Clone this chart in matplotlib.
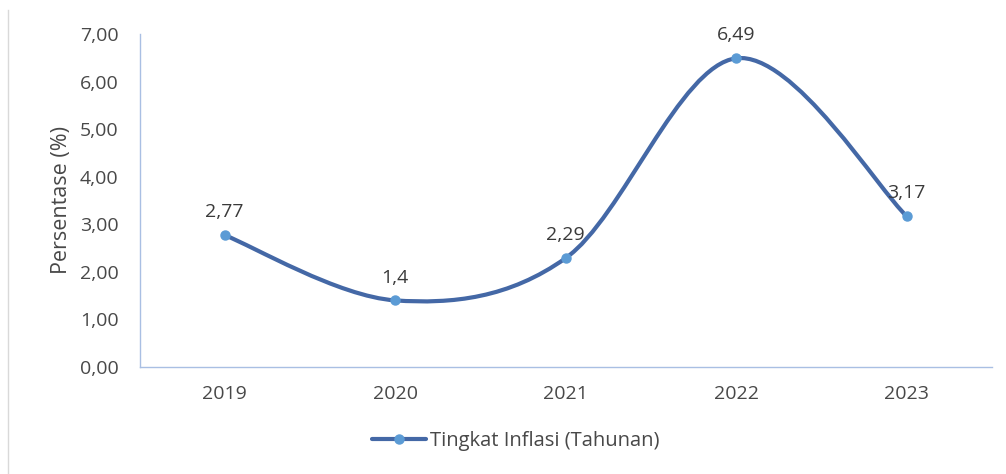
import matplotlib.pyplot as plt
from matplotlib.path import Path
from matplotlib.patches import PathPatch
from matplotlib.lines import Line2D
import matplotlib

matplotlib.rcParams['font.family'] = ['Open Sans', 'DejaVu Sans']

years = ['2019', '2020', '2021', '2022', '2023']
inflasi = [2.77, 1.4, 2.29, 6.49, 3.17]
labels = ['2,77', '1,4', '2,29', '6,49', '3,17']
yticks = [0, 1, 2, 3, 4, 5, 6, 7]

LINE_C = '#4468a6'
MARK_C = '#5b9bd5'
AXIS_C = '#a9bfe3'
TEXT_C = '#484848'
FS = 14

fig = plt.figure(figsize=(10.06, 4.74), dpi=100)
ax = fig.add_axes([139.5 / 1006, 1 - 367 / 474, (992 - 139.5) / 1006, (367 - 34) / 474])

xs = list(range(len(years)))
ax.set_xlim(-0.5, len(years) - 0.5)
ax.set_ylim(0, 7)

# Excel-style smoothed line (cardinal spline as cubic bezier)
pts = list(zip(xs, inflasi))
verts = [pts[0]]
codes = [Path.MOVETO]
for i in range(len(pts) - 1):
    p0 = pts[max(i - 1, 0)]
    p1 = pts[i]
    p2 = pts[i + 1]
    p3 = pts[min(i + 2, len(pts) - 1)]
    c1 = (p1[0] + (p2[0] - p0[0]) / 6, p1[1] + (p2[1] - p0[1]) / 6)
    c2 = (p2[0] - (p3[0] - p1[0]) / 6, p2[1] - (p3[1] - p1[1]) / 6)
    verts += [c1, c2, p2]
    codes += [Path.CURVE4] * 3
ax.add_patch(PathPatch(Path(verts, codes), fc='none', ec=LINE_C, lw=3.0,
                       capstyle='round', joinstyle='round', zorder=2))
ax.plot(xs, inflasi, ls='none', marker='o', ms=6.5, color=MARK_C, zorder=3)

for x, y, t in zip(xs, inflasi, labels):
    ax.annotate(t, (x, y), xytext=(0, 10), textcoords='offset points',
                ha='center', va='bottom', fontsize=FS, color='#3a3a3a')

ax.set_xticks(xs)
ax.set_xticklabels(years)
ax.set_yticks(yticks)
ax.set_yticklabels([f'{v:.2f}'.replace('.', ',') for v in yticks])
ax.tick_params(length=0, labelsize=FS, labelcolor=TEXT_C)
ax.tick_params(axis='x', pad=13)
ax.tick_params(axis='y', pad=15)
ax.set_ylabel('Persentase (%)', fontsize=15.5, color=TEXT_C, labelpad=6)

for s in ['top', 'right']:
    ax.spines[s].set_visible(False)
for s in ['left', 'bottom']:
    ax.spines[s].set_color(AXIS_C)
    ax.spines[s].set_linewidth(1.0)

handle = Line2D([], [], color=LINE_C, lw=3.0, marker='o', ms=6.5,
                mfc=MARK_C, mec=MARK_C, solid_capstyle='round')
fig.legend([handle], ['Tingkat Inflasi (Tahunan)'], loc='center',
           bbox_to_anchor=(516 / 1006, 1 - 441 / 474), frameon=False,
           fontsize=14.5, labelcolor=TEXT_C, handlelength=2.7, handletextpad=0.2)

fig.add_artist(Line2D([8 / 1006, 8 / 1006], [0, 1 - 10 / 474],
                      color='#d9d9d9', lw=1.0))

fig.savefig('out.png', dpi=100, facecolor='white')
